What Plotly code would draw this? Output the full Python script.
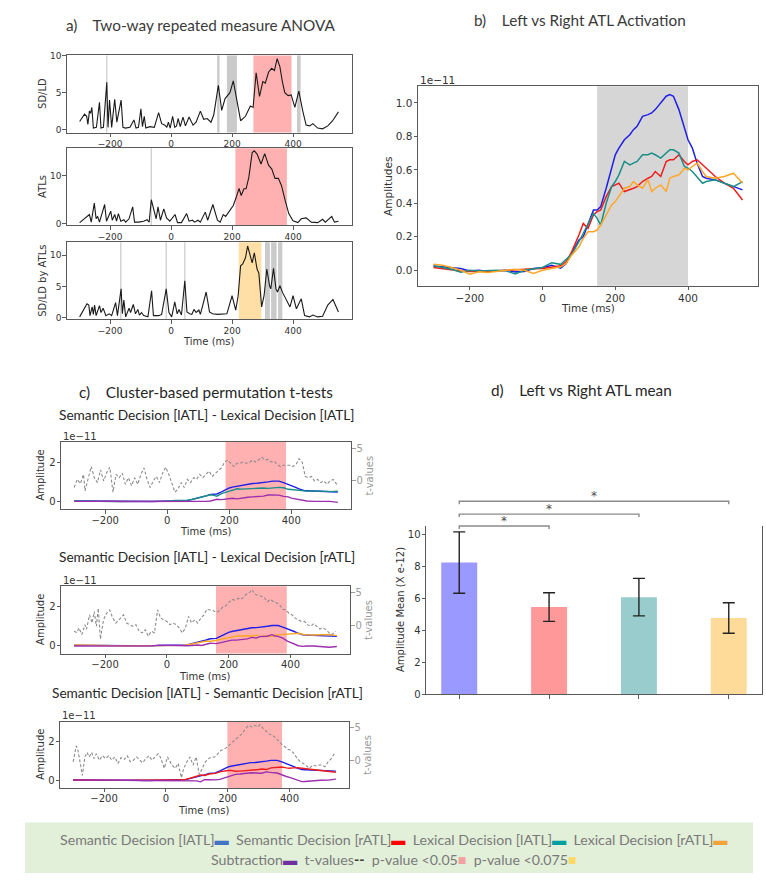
import plotly.graph_objects as go

W, H = 766, 880
def X(px): return px / W
def Y(py): return 1 - py / H

# ---------------- data: panel a (F-values over time) ----------------
A1_T = [-300,-284,-277,-273,-268,-264,-260,-255,-245,-235,-230,-222,-211,-207,-202,-195,-185,-178,-164,-158,
        -150,-135,-122,-115,-107,-99,-94,-88,-83,-70,-55,-41,-31,-20,-14,-9,-3,5,12,18,
        23,30,39,47,59,72,82,96,107,118,131,140,155,166,177,185,193,204,215,228,
        244,260,269,279,290,301,309,320,330,339,348,357,365,373,384,394,406,419,432,443,
        455,465,481,497,514,530,549]
A1_V = [1.1,2.1,1.8,0.7,2.5,2.2,3.0,0.2,0.3,3.7,0.2,0.3,6.4,0.3,4.0,0.3,4.1,1.0,4.0,0.3,
        0.2,0.3,1.3,0.2,0.3,2.8,0.4,1.8,0.2,0.4,0.3,2.3,0.8,0.6,0.3,1.0,0.2,1.8,0.3,0.5,
        1.5,0.4,1.7,0.5,1.7,0.6,1.0,2.5,1.4,1.5,1.0,2.0,6.0,2.6,4.2,4.6,5.0,6.6,4.0,1.2,
        1.8,3.2,3.0,7.7,4.5,6.5,6.3,7.8,8.3,8.0,9.6,8.5,6.5,5.0,4.6,4.7,3.0,5.2,2.5,0.6,
        0.5,0.8,0.2,0.1,0.5,1.2,2.4]
A2_T = [-300,-268,-262,-252,-246,-241,-235,-218,-212,-198,-193,-185,-179,-173,-165,-155,-149,-138,-126,-120,
        -106,-90,-79,-72,-65,-54,-49,-43,-35,-24,-15,-4,13,21,34,51,59,70,77,88,
        96,112,120,137,152,161,171,179,190,204,212,223,230,239,246,255,266,273,282,295,
        307,320,330,341,352,362,374,386,400,416,427,443,460,481,497,506,527,536,549]
A2_V = [0.2,1.9,0.3,4.3,1.0,1.5,0.3,4.0,0.5,2.6,0.7,1.9,0.5,2.1,0.5,0.8,0.3,1.0,3.5,0.3,
        0.3,0.5,0.8,0.3,5.0,2.4,1.0,3.5,0.7,3.1,1.2,0.5,1.9,0.2,0.2,2.1,0.5,0.7,0.3,0.7,
        0.3,2.4,0.7,4.0,0.7,0.3,1.9,1.5,2.4,3.8,5.2,7.4,5.9,7.3,7.3,9.7,14.9,15.3,14.6,12.5,
        14.7,12.2,11.5,9.5,9.5,8.0,4.9,2.1,0.6,0.2,1.0,1.2,0.3,0.2,0.9,0.3,1.5,0.3,0.5]
A3_T = [-300,-276,-270,-266,-259,-255,-251,-246,-235,-230,-223,-214,-203,-195,-182,-176,-164,-160,-155,-149,
        -138,-133,-124,-117,-109,-104,-97,-90,-76,-64,-58,-41,-31,-16,-7,2,12,20,26,34,
        45,52,61,68,75,82,91,96,104,115,126,136,153,169,183,200,212,220,228,235,
        244,251,258,266,273,282,288,297,305,314,323,327,336,344,349,357,366,379,390,400,
        411,427,438,454,465,481,497,514,531,549]
A3_V = [0.1,2.2,2.0,0.3,1.7,0.5,2.0,0.3,1.9,0.8,1.5,0.3,0.6,0.3,2.4,0.3,4.6,0.6,2.8,0.1,
        1.5,0.8,2.1,0.6,1.3,0.4,0.8,0.3,0.1,4.3,0.3,0.3,0.5,4.6,0.8,0.1,2.5,0.6,1.3,0.4,
        5.9,0.9,0.6,0.5,1.3,0.8,1.2,0.5,2.0,4.1,0.9,0.6,0.5,0.5,0.6,3.5,1.2,3.5,8.3,8.6,
        9.6,11.5,10.4,8.8,10.4,7.8,7.1,1.7,3.5,7.8,5.1,4.6,7.9,4.6,4.1,5.1,4.0,2.8,1.7,3.5,
        1.4,3.0,0.3,0.1,0.4,0.1,0.2,2.0,2.9,0.9]
A1_GRAY = [(-213, -209), (151, 159), (183, 216), (413, 425)]
A1_RED = [(270, 395)]
A2_GRAY = [(-67, -63)]
A2_RED = [(211, 380)]
A3_GRAY = [(-167, -163), (-18, -14), (43, 47), (308, 324), (328, 346), (351, 365)]
A3_ORANGE = [(222, 296)]

# ---------------- data: panel b (amplitudes, x 1e-11) ----------------
T_B = [-300,-275,-250,-225,-200,-175,-150,-125,-100,-75,-50,-25,0,25,50,65,80,100,112,125,
       140,150,160,175,190,200,210,225,240,250,260,275,290,300,310,325,340,350,360,375,
       390,400,412,425,440,450,475,500,525,550]
SD_L = [0.025,0.02,0.015,0.01,-0.005,0.0,-0.008,-0.005,0.0,-0.01,-0.008,0.01,0.015,0.03,0.012,0.04,0.10,0.18,0.20,0.28,
        0.36,0.36,0.38,0.49,0.62,0.69,0.73,0.78,0.81,0.84,0.86,0.92,0.93,0.94,0.96,1.0,1.04,1.05,1.04,0.96,
        0.85,0.78,0.73,0.64,0.56,0.55,0.54,0.52,0.50,0.48]
LD_L = [0.026,0.015,0.006,-0.012,0.0,-0.005,-0.004,0.0,-0.004,-0.022,0.0,0.01,0.016,0.045,0.035,0.065,0.095,0.17,0.22,0.28,
        0.34,0.31,0.27,0.40,0.50,0.53,0.57,0.65,0.63,0.64,0.65,0.69,0.69,0.70,0.69,0.67,0.70,0.72,0.72,0.70,
        0.62,0.61,0.59,0.56,0.52,0.53,0.54,0.52,0.50,0.53]
SD_R = [0.016,0.008,0.0,-0.005,-0.008,-0.005,-0.006,-0.004,0.0,0.0,0.004,0.008,0.01,0.02,0.026,0.05,0.11,0.21,0.28,0.25,
        0.33,0.35,0.36,0.44,0.50,0.51,0.52,0.47,0.48,0.49,0.50,0.53,0.55,0.56,0.59,0.56,0.65,0.66,0.66,0.69,
        0.65,0.63,0.65,0.66,0.63,0.61,0.56,0.52,0.49,0.42]
LD_R = [0.035,0.03,0.016,0.0,-0.024,-0.01,-0.014,-0.005,0.0,0.005,0.0,-0.02,0.0,0.01,0.02,0.04,0.09,0.14,0.19,0.23,
        0.23,0.24,0.27,0.33,0.39,0.41,0.44,0.49,0.50,0.53,0.51,0.49,0.54,0.47,0.49,0.51,0.47,0.55,0.56,0.57,
        0.61,0.60,0.62,0.64,0.59,0.56,0.55,0.56,0.58,0.52]
B_GRAY = [(150, 400)]

# ---------------- data: panel c (t-values) ----------------
TC1_T = [-300,-290,-280,-270,-265,-255,-245,-235,-225,-215,-205,-195,-185,-175,-165,-155,-145,-135,-125,-115,
         -105,-95,-85,-75,-65,-55,-45,-35,-25,-15,-5,5,15,25,35,45,55,65,75,85,
         95,105,115,125,135,145,155,165,175,185,195,205,215,225,235,245,255,265,275,285,
         295,305,315,325,335,345,355,365,375,385,395,405,415,425,435,445,455,465,475,485,
         495,505,515,525,535,545,550]
TC1_V = [-1.0,0.25,-0.4,1.0,-1.5,0.5,2.2,0.5,-0.25,1.7,0,1.3,2.1,-1.7,1.0,0.5,1.2,-0.5,0.5,-0.7,
         0.5,-0.5,1.0,2.0,0.25,-1.0,0,0.7,-0.25,1.2,2.1,1.0,-0.5,-1.7,-1.2,-0.25,-1.0,0.25,-0.25,0.5,
         0.25,1.0,0.5,1.0,1.5,0.7,1.2,1.6,2.0,2.9,3.2,2.7,2.2,2.7,2.7,2.9,2.7,2.8,3.2,2.9,
         3.2,3.6,3.2,3.3,2.9,3.0,2.5,2.2,2.4,2.4,2.4,2.2,2.5,3.4,2.9,0.7,0.5,0.7,0,0.25,
         -0.25,0,-0.5,0,0.25,-0.4,-0.7]
TC2_T = [-300,-290,-285,-275,-265,-260,-250,-242,-235,-228,-222,-215,-205,-195,-185,-175,-165,-155,-140,-130,
         -120,-110,-100,-90,-80,-70,-60,-50,-40,-30,-20,-10,0,10,20,30,40,50,60,70,
         80,90,100,110,120,130,140,150,160,170,180,190,200,210,220,230,240,250,260,270,
         275,285,295,305,315,325,335,345,355,365,375,385,395,405,415,425,435,445,455,465,
         475,485,495,505,515,525,535,545]
TC2_V = [-0.9,-1.1,-0.4,-1.4,0.1,-0.6,1.6,0.35,2.1,-0.15,2.6,-2.1,0.85,1.85,2.35,1.1,0.35,0.85,1.6,0.35,
         0.1,-0.15,0.1,-0.9,-1.15,-0.65,-1.65,-0.9,-1.15,2.35,1.1,0.85,0.6,0.1,0.35,0.1,-0.4,-1.15,-0.4,1.35,
         0.35,0.85,0.35,1.1,1.6,2.45,2.35,2.25,1.95,2.25,2.75,2.95,3.45,3.95,3.85,4.1,3.95,4.35,4.85,5.1,
         5.45,4.75,4.6,4.35,4.25,3.6,3.95,3.6,3.45,3.1,2.45,2.35,1.85,1.6,1.1,0.85,0.6,0.6,0.1,-0.15,
         0.25,-0.15,-0.55,-0.4,-0.65,-1.15,-1.4,-0.9]
TC3_T = [-300,-295,-290,-285,-280,-270,-262,-255,-248,-240,-232,-225,-215,-205,-195,-185,-175,-165,-155,-145,
         -135,-125,-115,-105,-95,-85,-75,-65,-55,-45,-35,-25,-18,-10,-5,5,12,20,30,40,
         50,58,68,78,88,98,108,118,128,138,148,158,168,178,188,198,208,218,228,238,
         248,258,268,278,288,298,305,315,325,335,345,355,365,375,385,395,405,415,425,435,
         445,455,465,475,485,495,505,515,525,535,545]
TC3_V = [-0.25,1.0,2.2,1.7,0.5,-2.35,0.5,1.2,0.5,1.2,0.25,1.0,0,0.7,0.25,0.7,0,0.5,-0.5,0.4,
         0.1,0.7,-0.25,0,0.5,0,-0.4,0.25,0.7,0,0.5,1.0,0.5,-0.75,-1.25,0.5,0,-0.75,-1.25,-0.5,
         -2.7,-1.25,-0.25,0.5,-0.75,0.5,-2.2,-1.25,-0.25,0.25,0.5,0.5,1.0,1.5,1.7,2.0,2.45,2.95,3.35,3.7,
         4.2,4.9,5.4,5.15,5.4,5.15,5.5,4.9,4.4,4.0,3.9,3.35,2.95,2.45,2.0,1.7,1.5,1.0,0.25,-0.25,
         -0.5,-0.9,-1.25,-0.75,-0.9,-0.75,-0.75,-1.0,-0.25,0.25,1.0]
C_TITLES = ["Semantic Decision [lATL] - Lexical Decision [lATL]",
            "Semantic Decision [lATL] - Lexical Decision [rATL]",
            "Semantic Decision [lATL] - Semantic Decision [rATL]"]
C_RED = [(188, 383), (159, 388), (199, 376)]

# ---------------- data: panel d (means) ----------------
D_CATS = ["Semantic Decision [lATL]", "Semantic Decision [rATL]", "Lexical Decision [lATL]", "Lexical Decision [rATL]"]
D_MEAN = [8.26, 5.47, 6.09, 4.78]
D_ERR = [1.93, 0.90, 1.18, 0.96]
D_SIG = [(0, 1), (0, 2), (0, 3)]

for a, b in [(A1_T, A1_V), (A2_T, A2_V), (A3_T, A3_V), (TC1_T, TC1_V), (TC2_T, TC2_V), (TC3_T, TC3_V)]:
    assert len(a) == len(b), (len(a), len(b))
for s in (SD_L, LD_L, SD_R, LD_R):
    assert len(s) == len(T_B)

# ---------------- styling ----------------
XR = [-342.5, 592.5]
XT = [-200, 0, 200, 400]
LINE = '#5a5a5a'
TXT = '#333333'
MPL = 'DejaVu Sans, sans-serif'
CAL = 'Lato, Open Sans, sans-serif'
C_BLUE, C_RED_, C_TEAL, C_ORANGE, C_PURPLE = '#1f1fe8', '#f01c1c', '#1a8f88', '#ffa726', '#9b2fae'
RED_FILL = 'rgba(255,0,0,0.31)'
ORANGE_FILL = 'rgba(255,170,20,0.38)'
GRAY_FILL = 'rgba(150,150,150,0.5)'

def ref(p, n): return p if n == 1 else '%s%d' % (p, n)
def key(p, n): return p + 'axis' + ('' if n == 1 else str(n))

fig = go.Figure()
layout = dict(width=W, height=H, margin=dict(l=0, r=0, t=0, b=0),
              paper_bgcolor='white', plot_bgcolor='white', showlegend=False)
shapes, annotations = [], []

def ann(text, x, y, size, color=TXT, family=MPL, angle=0, xanchor='center', yanchor='middle',
        xref='paper', yref='paper'):
    annotations.append(dict(text=text, x=x, y=y, xref=xref, yref=yref, showarrow=False,
                            font=dict(size=size, color=color, family=family), textangle=angle,
                            xanchor=xanchor, yanchor=yanchor))

def base_axis(size, color=TXT, tickcolor=LINE, standoff=-1):
    return dict(showline=True, linecolor=LINE, linewidth=1, ticks='outside', ticklen=3.5,
                tickcolor=tickcolor, tickfont=dict(family=MPL, size=size, color=color),
                ticklabelstandoff=standoff,
                showgrid=False, zeroline=False, fixedrange=True)

def add_xy(nx, ny, xdom, ydom, yrange, ytick, size, xrange=XR, xtick=XT, xmirror=True, ytickformat=None,
           xticktext=None, standoff=-1):
    xa = base_axis(size, standoff=standoff)
    xa.update(domain=xdom, anchor=ref('y', ny), range=xrange, tickvals=xtick, mirror=xmirror)
    if xticktext is not None:
        xa['ticktext'] = xticktext
    ya = base_axis(size)
    ya.update(domain=ydom, anchor=ref('x', nx), range=yrange, tickvals=ytick, mirror=True)
    if ytickformat:
        ya['tickformat'] = ytickformat
    layout[key('x', nx)] = xa
    layout[key('y', ny)] = ya

def band(spans, nx, ny, color):
    for x0, x1 in spans:
        shapes.append(dict(type='rect', xref=ref('x', nx), yref=ref('y', ny) + ' domain',
                           x0=x0, x1=x1, y0=0, y1=1, fillcolor=color, line=dict(width=0), layer='below'))

def line(xs, ys, nx, ny, color, width=1.4, dash=None):
    fig.add_trace(go.Scatter(x=xs, y=ys, mode='lines', xaxis=ref('x', nx), yaxis=ref('y', ny),
                             line=dict(color=color, width=width, dash=dash), hoverinfo='skip'))

TITLE_SIZE = 15.3

# ---------------- panel a ----------------
AX = [X(66.7), X(351.7)]
A_PANELS = [
    (1, A1_T, A1_V, (52, 130), [-0.4, 10.05], [0, 5, 10], 'SD/LD', [(A1_GRAY, GRAY_FILL), (A1_RED, RED_FILL)]),
    (2, A2_T, A2_V, (146, 224), [-0.4, 15.8], [0, 10], 'ATLs', [(A2_GRAY, GRAY_FILL), (A2_RED, RED_FILL)]),
    (3, A3_T, A3_V, (241, 319), [-0.3, 12.1], [0, 5, 10], 'SD/LD by ATLs', [(A3_GRAY, GRAY_FILL), (A3_ORANGE, ORANGE_FILL)]),
]
for n, T, V, (top, bot), yr, yt, lab, bands in A_PANELS:
    add_xy(n, n, AX, [Y(bot), Y(top)], yr, yt, 9)
    for spans, col in bands:
        band(spans, n, n, col)
    line(T, V, n, n, '#1a1a1a', 1.1)
    ann(lab, X(43), Y((top + bot) / 2), 10, angle=-90)
ann('Time (ms)', X(209), Y(341), 10)
ann('a)\u00a0\u00a0\u00a0\u00a0Two-way repeated measure ANOVA', X(201), Y(21), TITLE_SIZE, color='#3a3a3a', family=CAL)

# ---------------- panel b ----------------
add_xy(4, 4, [X(418), X(758)], [Y(285), Y(83.3)], [-0.093, 1.099], [0, 0.2, 0.4, 0.6, 0.8, 1.0], 10.5,
       ytickformat='.1f')
band(B_GRAY, 4, 4, 'rgba(200,200,200,0.75)')
line(T_B, SD_L, 4, 4, C_BLUE, 1.5)
line(T_B, SD_R, 4, 4, C_RED_, 1.5)
line(T_B, LD_L, 4, 4, C_TEAL, 1.5)
line(T_B, LD_R, 4, 4, C_ORANGE, 1.5)
ann('1e\u221211', X(418), Y(77), 10.5, xanchor='left')
ann('Amplitudes', X(388), Y(185), 10.5, angle=-90)
ann('Time (ms)', X(588), Y(307), 10.5)
ann('b)\u00a0\u00a0\u00a0\u00a0Left vs Right ATL Activation', X(580), Y(16), TITLE_SIZE, color='#3a3a3a', family=CAL)

# ---------------- panel c ----------------
ann('c)\u00a0\u00a0\u00a0\u00a0Cluster-based permutation t-tests', X(206), Y(392), TITLE_SIZE, color='#262626', family=CAL)
C_PANELS = [
    (5, 5, 6, (443, 511), (61, 351), LD_L, C_TEAL, TC1_T, TC1_V, 415, 437, 534),
    (6, 7, 8, (589, 657), (61, 350), LD_R, C_ORANGE, TC2_T, TC2_V, 559, 583, 680),
    (7, 9, 10, (726, 793), (60, 349), SD_R, C_RED_, TC3_T, TC3_V, 696, 720, 816),
]
for i, (nx, ny, nt, (top, bot), (l, r), other, ocol, TT, TV, ytitle, y1e, ytime) in enumerate(C_PANELS):
    add_xy(nx, ny, [X(l), X(r)], [Y(bot), Y(top)], [-0.4, 3.05], [0, 2], 10, standoff=-2)
    ta = base_axis(10, color='#9a9a9a', tickcolor='#9a9a9a')
    ta.update(overlaying=ref('y', ny), side='right', anchor=ref('x', nx), range=[-4.3, 5.95], tickvals=[0, 5])
    layout[key('y', nt)] = ta
    band([C_RED[i]], nx, ny, RED_FILL)
    sub = [a - b for a, b in zip(SD_L, other)]
    line(T_B, SD_L, nx, ny, C_BLUE, 1.4)
    line(T_B, other, nx, ny, ocol, 1.4)
    line(T_B, sub, nx, ny, C_PURPLE, 1.4)
    line(TT, TV, nx, nt, '#8c8c8c', 1.1, dash='3px,2px')
    ann(C_TITLES[i], X(207), Y(ytitle), 13.7, color='#262626', family=CAL)
    ann('1e\u221211', X(l), Y(y1e), 10, xanchor='left')
    ann('Amplitude', X(41), Y((top + bot) / 2), 10, angle=-90)
    ann('t-values', X(r + 19), Y((top + bot) / 2), 10, color='#9a9a9a', angle=-90)
    ann('Time (ms)', X((l + r) / 2), Y(ytime), 10)

# ---------------- panel d ----------------
add_xy(8, 11, [X(426), X(762)], [Y(698), Y(528)], [0, 10.56], [0, 2, 4, 6, 8, 10], 10,
       xrange=[-0.37, 3.37], xtick=[0, 1, 2, 3], xmirror=False, xticktext=['', '', '', ''])
BAR_COLS = ['rgba(0,0,255,0.4)', 'rgba(255,0,0,0.4)', 'rgba(0,128,128,0.4)', 'rgba(255,165,0,0.4)']
fig.add_trace(go.Bar(x=list(range(len(D_CATS))), y=D_MEAN, width=0.4, xaxis='x8', yaxis='y11',
                     marker=dict(color=BAR_COLS, line=dict(width=0)), hovertext=D_CATS, hoverinfo='text+y',
                     error_y=dict(type='data', array=D_ERR, color='#222222', thickness=1.4, width=6)))
SIG_Y = [528, 516, 503]
for (i, j), py in zip(D_SIG, SIG_Y):
    shapes.append(dict(type='path', xref='x8', yref='paper',
                       path='M %d,%f L %d,%f L %d,%f L %d,%f' % (i, Y(py + 3), i, Y(py), j, Y(py), j, Y(py + 3)),
                       line=dict(color='#8a8a8a', width=1.4)))
    annotations.append(dict(text='*', x=(i + j) / 2, y=Y(py - 5), xref='x8', yref='paper', showarrow=False,
                            font=dict(size=12, color='#4d4d4d', family=MPL), xanchor='center', yanchor='middle'))
ann('Amplitude Mean (X e-12)', X(400), Y(613), 10, angle=-90)
ann('d)\u00a0\u00a0\u00a0\u00a0Left vs Right ATL mean', X(581), Y(390), TITLE_SIZE, color='#262626', family=CAL)

# ---------------- legend box ----------------
shapes.append(dict(type='rect', xref='paper', yref='paper', x0=X(25), x1=X(753), y0=Y(879), y1=Y(828),
                   fillcolor='#e2efd9', line=dict(width=0), layer='below'))
def mk(c, ch='\u25ac'):
    return "<span style='color:%s'>%s</span>" % (c, ch)
GAP = '\u00a0\u00a0'
row1 = ('Semantic Decision [lATL]' + mk('#4472c4') + GAP + 'Semantic Decision [rATL]' + mk('#ff0000') + GAP +
        'Lexical Decision [lATL]' + mk('#00a0a0') + GAP + 'Lexical Decision [rATL]' + mk('#f4a33b'))
row2 = ('Subtraction' + mk('#7030a0') + GAP + 't-values' + mk('#404040', '<b>--</b>') + GAP +
        'p-value &lt;0.05' + mk('#f4a0a0', '\u25a0') + GAP + 'p-value &lt;0.075' + mk('#ffd966', '\u25a0'))
ann(row1, X(394), Y(845), 14.2, color='#7a7a7a', family=CAL)
ann(row2, X(394), Y(865), 14.2, color='#7a7a7a', family=CAL)

layout['shapes'] = shapes
layout['annotations'] = annotations
fig.update_layout(**layout)
fig.write_html('out.html', config={'displayModeBar': False},
               post_script="document.body.style.margin='0';document.body.style.padding='0';")
